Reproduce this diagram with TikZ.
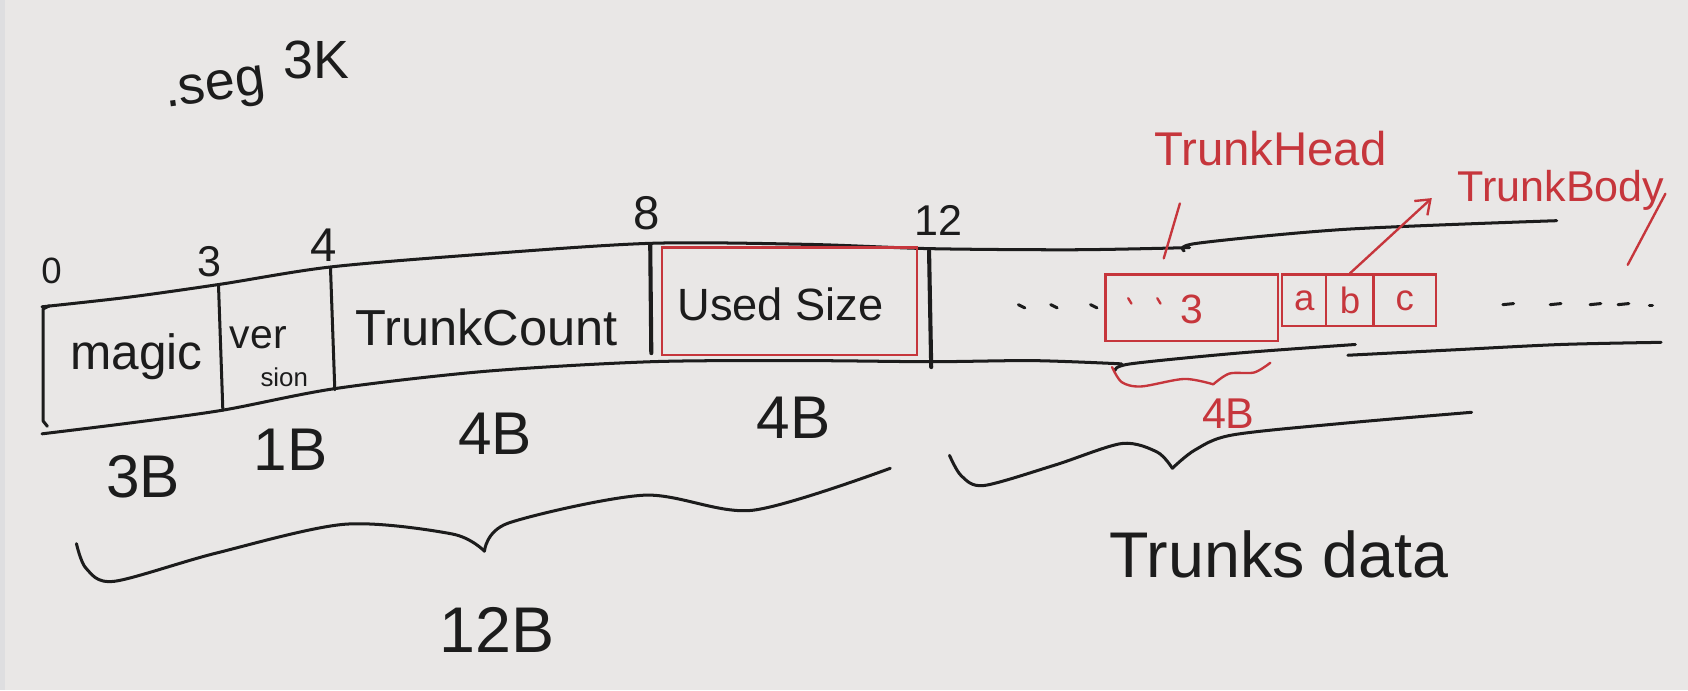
\documentclass[tikz,border=0pt]{standalone}
\usepackage{fontspec}
\setmainfont{Liberation Sans}
\usetikzlibrary{arrows.meta}
\definecolor{paper}{RGB}{233,231,230}
\definecolor{edge}{RGB}{222,222,224}
\definecolor{ink}{RGB}{28,28,28}
\definecolor{redink}{RGB}{198,54,60}
\newcommand\fsz[1]{\fontsize{#1}{#1}\selectfont}
\tikzset{
  pen/.style={draw=ink, line width=1.4pt, line cap=round, line join=round},
  thickpen/.style={draw=ink, line width=1.9pt, line cap=round},
  redpen/.style={draw=redink, line width=1.1pt, line cap=round, line join=round},
  lbl/.style={text=ink, inner sep=0pt},
  rlbl/.style={text=redink, inner sep=0pt},
  redbox/.style={draw=redink, line width=1.1pt, inner sep=0pt},
}
\begin{document}
\begin{tikzpicture}[x=0.5pt,y=-0.5pt]
\fill[paper] (0,0) rectangle (1568,641);
\fill[edge] (0,0) rectangle (5,641);
\useasboundingbox (0,0) rectangle (1568,641);

% title
\node[lbl, font=\fsz{25}, rotate=8] (seg) at (200,85) {.seg};
\node[lbl, font=\fsz{25}] (seg3k) at (294,56) {3K};

% main strip outline
\draw[pen] plot[smooth] coordinates {(39,285) (120,276) (205,264) (307,248) (450,236) (605,226) (750,227) (865,231) (1000,232) (1105,230)};
\draw[pen] plot[smooth] coordinates {(1100,233) (1112,226) (1250,213) (1446,205)};
\draw[pen] plot[smooth] coordinates {(39,403) (120,393) (207,381) (311,361) (450,345) (605,336) (750,335) (865,336) (960,335) (1042,338)};
\draw[pen] plot[smooth] coordinates {(1036,344) (1050,338) (1150,328) (1259,320)};
\draw[pen] plot[smooth] coordinates {(1252,330) (1350,325) (1450,320) (1543,318)};
\draw[pen] (46,284) -- (40,287) -- (40,391) -- (44,396);

% dividers
\coordinate (d3t) at (203,266); \coordinate (d3b) at (207,381);
\coordinate (d4t) at (307,249); \coordinate (d4b) at (311,362);
\coordinate (d8t) at (604,227); \coordinate (d8b) at (605,328);
\coordinate (d12t) at (863,233); \coordinate (d12b) at (865,341);
\draw[pen] (d3t) -- (d3b);
\draw[pen] (d4t) -- (d4b);
\draw[thickpen] (d8t) -- (d8b);
\draw[thickpen] (d12t) -- (d12b);

% offsets
\node[lbl, font=\fsz{17}] (o0) at (48,252) {0};
\node[lbl, font=\fsz{20}] (o3) at (195,243) {3};
\node[lbl, font=\fsz{22}] (o4) at (301,228) {4};
\node[lbl, font=\fsz{22}] (o8) at (601,198) {8};
\node[lbl, font=\fsz{20}] (o12) at (872,205) {12};

% fields
\node[lbl, font=\fsz{23}] (magic) at (127,331) {magic};
\node[lbl, font=\fsz{19}] (ver) at (240,314) {ver};
\node[lbl, font=\fsz{12}] (sion) at (264,350) {sion};
\node[lbl, font=\fsz{23.5}] (tcount) at (452,304) {TrunkCount};
\node[redbox, minimum width=118.5pt, minimum height=50pt] (usbox) at (733.5,280) {};
\node[lbl, font=\fsz{21}] (used) at (725,283) {Used Size};

% sizes
\node[lbl, font=\fsz{28}] (s3) at (133,443) {3B};
\node[lbl, font=\fsz{28}] (s1) at (270,418) {1B};
\node[lbl, font=\fsz{28}] (s4a) at (460,403) {4B};
\node[lbl, font=\fsz{28}] (s4b) at (737,388) {4B};

% 12B brace
\draw[pen] plot[smooth] coordinates {(71,505) (80,528) (106,540) (200,514) (320,487) (420,496) (450,512)};
\draw[pen] plot[smooth] coordinates {(450,512) (472,486) (598,460) (699,474) (827,435)};
\node[lbl, font=\fsz{30}] (b12) at (462,585) {12B};

% trunks data brace
\draw[pen] plot[smooth] coordinates {(882,423) (893,442) (914,451) (980,432) (1042,412) (1075,420) (1089,435)};
\draw[pen] plot[smooth] coordinates {(1089,435) (1110,418) (1145,404) (1250,393) (1367,383)};
\node[lbl, font=\fsz{30}] (tdata) at (1188,515) {Trunks data};

% dots
\foreach \x in {946,976,1013} \draw[pen] (\x,283) -- ++(6,3);
\foreach \x in {1396,1440,1477,1503} \draw[pen] (\x,283) -- ++(10,-1);
\draw[pen] (1532,284) -- ++(3,0);

% trunk head box
\node[redbox, minimum width=80pt, minimum height=31pt] (hbox) at (1107,286) {};
\foreach \x in {1048,1075} \draw[redpen] (\x,277) -- ++(3,5);
\node[rlbl, font=\fsz{19}] (h3) at (1107,287) {3};

% trunk body cells
\node[redbox, minimum width=20.5pt, minimum height=24pt] (ca) at (1211.5,279) {};
\node[redbox, minimum width=22pt, minimum height=24pt] (cb) at (1254,279) {};
\node[redbox, minimum width=29pt, minimum height=24pt] (cc) at (1305,279) {};
\node[rlbl, font=\fsz{17}] at (ca) {a};
\node[rlbl, font=\fsz{17}] at (cb) {b};
\node[rlbl, font=\fsz{17}] at (cc) {c};

% red brace + 4B
\draw[redpen] plot[smooth] coordinates {(1033,341) (1042,355) (1060,359) (1100,352) (1127,357)};
\draw[redpen] plot[smooth] coordinates {(1127,357) (1142,347) (1165,346) (1180,337)};
\node[rlbl, font=\fsz{20}] (r4b) at (1141,384) {4B};

% labels
\node[rlbl, font=\fsz{22}] (thead) at (1180,138) {TrunkHead};
\coordinate (thl1) at (1096,189);
\coordinate (thl2) at (1081,240);
\draw[redpen] (thl1) -- (thl2);
\node[rlbl, font=\fsz{20}] (tbody) at (1450,177) {TrunkBody};
\coordinate (tbl1) at (1547,180);
\coordinate (tbl2) at (1512,246);
\draw[redpen] (tbl1) -- (tbl2);
\coordinate (tbtip) at (1330,184);
\draw[redpen, -{Straight Barb[length=6pt,width=9pt]}] (cb.north) -- (tbtip);
\end{tikzpicture}
\end{document}
